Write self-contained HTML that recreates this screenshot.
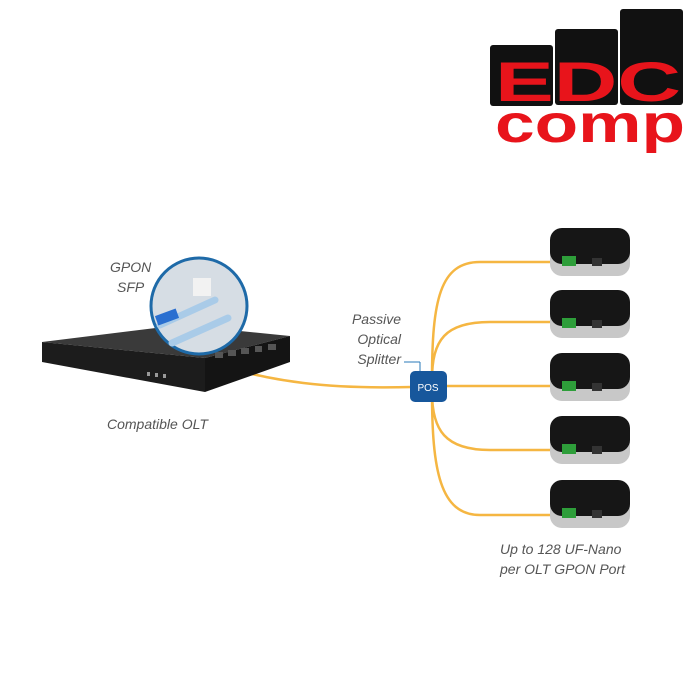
<!DOCTYPE html>
<html><head><style>
body{margin:0;width:700px;height:700px;background:#fff;overflow:hidden;position:relative;font-family:"Liberation Sans",sans-serif}
.t{position:absolute;font-style:italic;color:#555;font-size:14px;line-height:20px}
</style></head><body>
<svg width="700" height="700" style="position:absolute;left:0;top:0">
<rect x="490" y="45" width="63" height="61" rx="3" fill="#111"/>
<rect x="555" y="29" width="63" height="76" rx="3" fill="#111"/>
<rect x="620" y="9" width="63" height="96" rx="3" fill="#111"/>
<text x="588" y="101" font-family="Liberation Sans" font-weight="bold" font-size="56" fill="#e8141b" text-anchor="middle" textLength="186" lengthAdjust="spacingAndGlyphs">EDC</text>
<text x="590" y="142" font-family="Liberation Sans" font-weight="bold" font-size="54" fill="#e8141b" text-anchor="middle" textLength="190" lengthAdjust="spacingAndGlyphs">comp</text>
<g fill="none" stroke="#f5b642" stroke-width="2.5">
<path d="M212 365 C260 375 300 390 412 387"/>
<path d="M432 380 C432 300 440 262 480 262 L560 262"/>
<path d="M432 380 C432 340 445 322 490 322 L560 322"/>
<path d="M446 386 L560 386"/>
<path d="M432 392 C432 430 445 450 490 450 L560 450"/>
<path d="M432 392 C432 470 440 515 480 515 L560 515"/>
</g>
<line x1="404" y1="362" x2="420" y2="362" stroke="#2a7ab8"/><line x1="420" y1="362" x2="420" y2="374" stroke="#2a7ab8"/>
<rect x="410" y="371" width="37" height="31" rx="5" fill="#17579c"/>
<text x="428" y="391" font-size="10" fill="#fff" text-anchor="middle" font-family="Liberation Sans">POS</text>
<polygon points="42,342 180,325 290,336 205,358" fill="#3a3a3a"/>
<polygon points="42,342 205,358 205,392 42,362" fill="#1c1c1c"/>
<polygon points="205,358 290,336 290,362 205,392" fill="#141414"/>
<g fill="#555"><rect x="215" y="352" width="8" height="6"/><rect x="228" y="350" width="8" height="6"/><rect x="241" y="348" width="8" height="6"/><rect x="255" y="346" width="7" height="6"/><rect x="268" y="344" width="8" height="6"/></g>
<g fill="#999"><rect x="147" y="372" width="3" height="4"/><rect x="155" y="373" width="3" height="4"/><rect x="163" y="374" width="3" height="4"/></g>
<circle cx="199" cy="306" r="48" fill="#d6dde4" stroke="#1e6aa8" stroke-width="3"/>
<g stroke="#a9cbe8" stroke-width="7" stroke-linecap="round"><line x1="160" y1="325" x2="215" y2="300"/><line x1="172" y1="343" x2="228" y2="318"/></g>
<rect x="156" y="312" width="22" height="10" fill="#2a6fd0" transform="rotate(-20 167 317)"/>
<rect x="193" y="278" width="18" height="18" fill="#f2f2f2"/>
<g id="d">
<rect x="550" y="238" width="80" height="38" rx="12" fill="#c8c8c8"/>
<rect x="550" y="228" width="80" height="36" rx="12" fill="#161616"/>
<rect x="562" y="256" width="14" height="10" fill="#2e9e3a"/>
<rect x="592" y="258" width="10" height="8" fill="#333"/>
</g>
<use href="#d" y="62"/><use href="#d" y="125"/><use href="#d" y="188"/><use href="#d" y="252"/>
</svg>
<div class="t" style="left:110px;top:257px;text-align:center">GPON<br>SFP</div>
<div class="t" style="left:320px;top:309px;width:81px;text-align:right">Passive<br>Optical<br>Splitter</div>
<div class="t" style="left:107px;top:414px">Compatible OLT</div>
<div class="t" style="left:500px;top:539px">Up to 128 UF-Nano<br>per OLT GPON Port</div>
</body></html>
